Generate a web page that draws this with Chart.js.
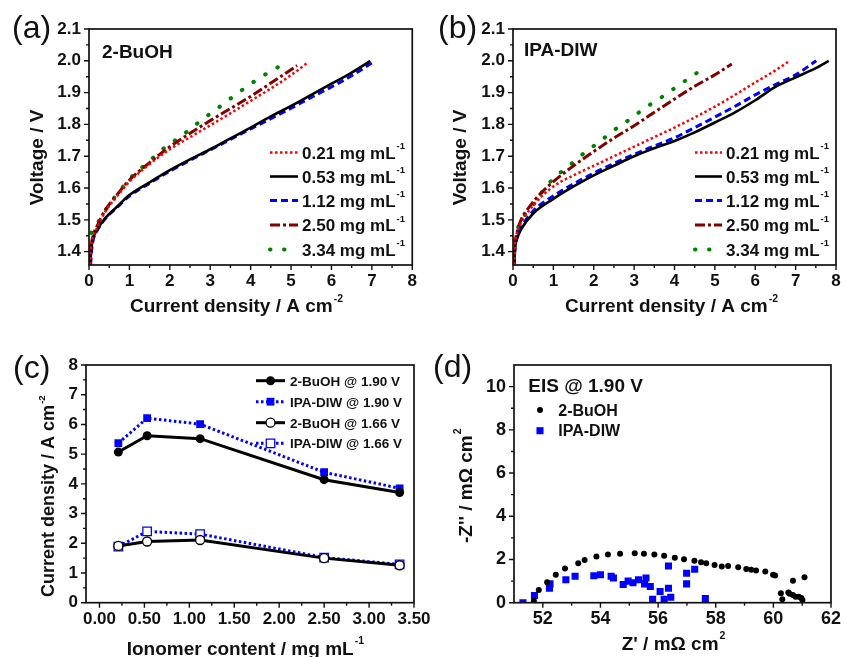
<!DOCTYPE html>
<html>
<head>
<meta charset="utf-8">
<title>Ionomer content study</title>
<script src="https://cdn.jsdelivr.net/npm/chart.js@4.4.1/dist/chart.umd.min.js"></script>
<style>
  body { margin: 0; background: #fff; width: 847px; height: 657px; overflow: hidden; position: relative; }
  canvas { position: absolute; }
</style>
</head>
<body>
<canvas id="chartA" width="423" height="330" style="left:0;top:0"></canvas>
<canvas id="chartB" width="424" height="330" style="left:423px;top:0"></canvas>
<canvas id="chartC" width="440" height="340" style="left:0;top:330px"></canvas>
<canvas id="chartD" width="424" height="340" style="left:423px;top:330px"></canvas>
<script>
const FAMILY = '"Liberation Sans", Arial, sans-serif';
const INK = '#111';

// ionomer loadings used in (a) and (b)
const loadingLabels = ['0.21', '0.53', '1.12', '2.50', '3.34'];

// (a) 2-BuOH: current density (A cm-2) / voltage (V)
const buJ021 = [0.03, 0.05, 0.1, 0.2, 0.4, 0.7, 1, 1.5, 2, 2.5, 3, 3.5, 4, 4.5, 5, 5.42];
const buV021 = [1.36, 1.41, 1.445, 1.475, 1.525, 1.575, 1.62, 1.675, 1.722, 1.76, 1.797, 1.835, 1.874, 1.913, 1.955, 1.995];
const buJ053 = [0.03, 0.06, 0.1, 0.2, 0.4, 0.7, 1, 1.5, 2, 2.5, 3, 3.5, 4, 4.5, 5, 5.5, 6, 6.5, 6.96];
const buV053 = [1.36, 1.41, 1.44, 1.468, 1.505, 1.542, 1.578, 1.618, 1.656, 1.69, 1.722, 1.756, 1.79, 1.825, 1.858, 1.893, 1.928, 1.963, 2.0];
const buJ112 = [0.04, 0.07, 0.11, 0.2, 0.4, 0.7, 1, 1.5, 2, 2.5, 3, 3.5, 4, 4.5, 5, 5.5, 6, 6.5, 7.08];
const buV112 = [1.36, 1.41, 1.44, 1.466, 1.503, 1.54, 1.575, 1.615, 1.653, 1.687, 1.72, 1.753, 1.786, 1.818, 1.851, 1.885, 1.918, 1.953, 2.0];
const buJ250 = [0.03, 0.05, 0.1, 0.2, 0.4, 0.7, 1, 1.5, 2, 2.5, 3, 3.5, 4, 4.5, 5.15];
const buV250 = [1.36, 1.41, 1.45, 1.48, 1.53, 1.58, 1.625, 1.68, 1.73, 1.772, 1.812, 1.85, 1.888, 1.93, 1.985];
const buJ334 = [0.01, 0.03, 0.11, 0.235, 0.4, 0.63, 1.13, 1.42, 1.8, 2.32, 2.8, 3.27, 3.75, 4.26, 4.96];
const buV334 = [1.37, 1.437, 1.468, 1.494, 1.529, 1.57, 1.645, 1.676, 1.72, 1.767, 1.815, 1.859, 1.905, 1.949, 2.0];

// (b) IPA-DIW
const ipJ021 = [0.03, 0.05, 0.1, 0.2, 0.5, 1, 1.5, 2, 2.5, 3, 3.5, 4, 4.5, 5, 5.5, 6, 6.5, 6.85];
const ipV021 = [1.36, 1.42, 1.46, 1.49, 1.545, 1.605, 1.64, 1.67, 1.7, 1.73, 1.76, 1.79, 1.822, 1.856, 1.893, 1.932, 1.97, 2.0];
const ipJ053 = [0.03, 0.05, 0.1, 0.2, 0.5, 1, 1.5, 2, 2.5, 3, 3.5, 4, 4.5, 5, 5.5, 6, 6.5, 7, 7.5, 7.82];
const ipV053 = [1.36, 1.41, 1.44, 1.47, 1.52, 1.566, 1.605, 1.64, 1.67, 1.7, 1.725, 1.748, 1.775, 1.806, 1.838, 1.876, 1.918, 1.948, 1.977, 2.0];
const ipJ112 = [0.03, 0.05, 0.1, 0.2, 0.5, 1, 1.5, 2, 2.5, 3, 3.5, 4, 4.5, 5, 5.5, 6, 6.5, 7, 7.51];
const ipV112 = [1.36, 1.41, 1.445, 1.475, 1.528, 1.575, 1.613, 1.647, 1.677, 1.706, 1.732, 1.758, 1.79, 1.823, 1.857, 1.893, 1.925, 1.956, 2.0];
const ipJ250 = [0.03, 0.05, 0.1, 0.2, 0.4, 0.7, 1, 1.5, 2, 2.5, 3, 3.5, 4, 4.5, 5, 5.42];
const ipV250 = [1.36, 1.42, 1.46, 1.5, 1.54, 1.585, 1.62, 1.67, 1.715, 1.757, 1.796, 1.838, 1.88, 1.92, 1.956, 1.99];
const ipJ334 = [0.02, 0.06, 0.19, 0.44, 0.65, 0.89, 1.18, 1.49, 1.8, 2.12, 2.44, 2.78, 3.09, 3.43, 3.77, 4.1, 4.43, 4.77];
const ipV334 = [1.39, 1.44, 1.494, 1.536, 1.575, 1.615, 1.649, 1.681, 1.714, 1.743, 1.776, 1.806, 1.835, 1.865, 1.893, 1.923, 1.951, 1.982];

// (c) current density vs ionomer content
const ionomer = [0.21, 0.53, 1.12, 2.50, 3.34];
const buoh190 = [5.07, 5.62, 5.52, 4.14, 3.71];
const ipa190 = [5.37, 6.21, 6.01, 4.39, 3.85];
const buoh166 = [1.91, 2.06, 2.11, 1.50, 1.26];
const ipa166 = [1.89, 2.40, 2.31, 1.52, 1.29];
const seriesLabelsC = ['2-BuOH @ 1.90 V', 'IPA-DIW @ 1.90 V', '2-BuOH @ 1.66 V', 'IPA-DIW @ 1.66 V'];

// (d) EIS at 1.90 V, Z' and -Z'' (mOhm cm2)
const eisBuRe = [51.69, 51.86, 52.15, 52.45, 52.77, 53.23, 53.45, 53.86, 54.26, 54.68, 55.19, 55.51, 55.87, 56.21, 56.58, 56.90, 57.26, 57.49, 57.67, 57.96, 58.21, 58.43, 58.78, 59.06, 59.23, 59.40, 59.72, 59.99, 60.06, 60.26, 60.31, 60.52, 60.56, 60.68, 60.68, 60.77, 60.88, 60.97, 61.01, 61.08];
const eisBuIm = [0.09, 0.59, 0.95, 1.29, 1.58, 1.83, 1.98, 2.14, 2.23, 2.26, 2.29, 2.26, 2.23, 2.17, 2.08, 2.01, 1.94, 1.87, 1.83, 1.74, 1.67, 1.70, 1.64, 1.56, 1.53, 1.49, 1.44, 1.29, 1.26, 0.44, 0.16, 0.47, 0.41, 1.02, 0.36, 0.28, 0.28, 0.22, 0.13, 1.18];
const eisIpaRe = [51.31, 51.71, 52.25, 52.23, 52.80, 53.12, 53.77, 54.00, 54.37, 54.45, 54.79, 54.96, 55.13, 55.32, 55.58, 55.53, 55.73, 55.81, 56.07, 56.21, 56.36, 56.36, 56.44, 56.99, 56.99, 57.27, 57.64];
const eisIpaIm = [0.0, 0.33, 0.87, 0.67, 1.06, 1.22, 1.25, 1.29, 1.22, 1.14, 0.84, 1.00, 0.92, 1.06, 1.14, 0.87, 0.75, 0.16, 0.52, 0.16, 0.67, 1.70, 0.25, 0.87, 1.36, 1.55, 0.19];

// tick values
const currentTicks = [0, 1, 2, 3, 4, 5, 6, 7, 8];
const voltTicks = [1.4, 1.5, 1.6, 1.7, 1.8, 1.9, 2.0, 2.1];
const ionomerTicks = [0, 0.5, 1, 1.5, 2, 2.5, 3, 3.5];
const densityTicks = [0, 1, 2, 3, 4, 5, 6, 7, 8];
const reTicks = [52, 54, 56, 58, 60, 62];
const imTicks = [0, 2, 4, 6, 8, 10];

const pts = (xs, ys) => xs.map((x, i) => ({ x, y: ys[i] }));
const halfway = ticks => ticks.slice(0, -1).map((v, i) => (v + ticks[i + 1]) / 2);

const curveStyles = [
  { borderColor: '#ff0000', borderWidth: 2.5, borderDash: [2.5, 2.5], borderCapStyle: 'butt' },
  { borderColor: '#000000', borderWidth: 2.6, borderDash: [], borderCapStyle: 'butt' },
  { borderColor: '#0000ff', borderWidth: 3, borderDash: [7, 4], borderCapStyle: 'butt' },
  { borderColor: '#800000', borderWidth: 3, borderDash: [10, 3, 3, 3], borderCapStyle: 'butt' },
  { borderColor: '#008000', borderWidth: 4, borderDash: [0.5, 13.5], borderCapStyle: 'round' }
];

function curves(pairs) {
  return pairs.map((p, i) => Object.assign({
    data: pts(p[0], p[1]),
    pointRadius: 0,
    fill: false,
    cubicInterpolationMode: 'monotone'
  }, curveStyles[i]));
}

function axis(min, max, ticks, fmt, fitSize, horizontal, size) {
  return {
    type: 'linear', min, max,
    afterBuildTicks: s => { s.ticks = ticks.map(v => ({ value: v })); },
    afterFit: s => { if (horizontal) s.height = fitSize; else s.width = fitSize; },
    grid: { display: false, drawTicks: false },
    border: { display: false },
    ticks: {
      autoSkip: false, maxRotation: 0, padding: horizontal ? 6 : 8, color: INK,
      font: { family: FAMILY, size: size || 17, weight: 'bold' },
      callback: v => fmt(v)
    }
  };
}

// frame round the plot area plus outward major/minor ticks
const axesFrame = {
  id: 'axesFrame',
  afterDatasetsDraw(chart, args, opts) {
    const { ctx, chartArea: a, scales: { x, y } } = chart;
    ctx.save();
    ctx.strokeStyle = INK;
    ctx.setLineDash([]);
    ctx.lineWidth = 1.7;
    ctx.strokeRect(a.left, a.top, a.right - a.left, a.bottom - a.top);
    ctx.lineWidth = 1.4;
    ctx.beginPath();
    const xm = (v, len) => { const p = x.getPixelForValue(v); ctx.moveTo(p, a.bottom); ctx.lineTo(p, a.bottom + len); };
    const ym = (v, len) => { const p = y.getPixelForValue(v); ctx.moveTo(a.left, p); ctx.lineTo(a.left - len, p); };
    x.ticks.forEach(t => xm(t.value, 5));
    y.ticks.forEach(t => ym(t.value, 5));
    (opts.xMinor || []).forEach(v => xm(v, 3));
    (opts.yMinor || []).forEach(v => ym(v, 3));
    ctx.stroke();
    ctx.restore();
  }
};

function drawParts(ctx, it) {
  const size = it.size, weight = it.weight || 'bold';
  ctx.save();
  ctx.fillStyle = INK;
  ctx.translate(it.tx, it.y);
  if (it.rotate) ctx.rotate(-Math.PI / 2);
  const segs = it.parts.map(p => {
    const sup = p[0] === '^';
    const s = sup ? size * 0.55 : size;
    const t = sup ? p.slice(1) : p;
    ctx.font = `${weight} ${s}px ${FAMILY}`;
    return { t, s, sup, w: ctx.measureText(t).width + (sup ? 1 : 0) };
  });
  const total = segs.reduce((a, g) => a + g.w, 0);
  let cx = it.align === 'center' ? -total / 2 : 0;
  ctx.textAlign = 'left';
  ctx.textBaseline = 'alphabetic';
  const base = size * 0.358;
  segs.forEach(g => {
    ctx.font = `${weight} ${g.s}px ${FAMILY}`;
    ctx.fillText(g.t, cx + (g.sup ? 1 : 0), g.sup ? base - size * 0.55 : base);
    cx += g.w;
  });
  ctx.restore();
}

function sampleLine(ctx, ds, x1, x2, y) {
  ctx.save();
  ctx.strokeStyle = ds.borderColor;
  ctx.lineWidth = ds.borderWidth;
  ctx.setLineDash(ds.borderDash || []);
  ctx.lineCap = ds.borderCapStyle || 'butt';
  ctx.beginPath();
  ctx.moveTo(x1, y);
  ctx.lineTo(x2, y);
  ctx.stroke();
  ctx.restore();
}

function marker(ctx, ds, x, y) {
  const r = ds.pointRadius;
  ctx.save();
  ctx.setLineDash([]);
  ctx.fillStyle = ds.pointBackgroundColor;
  ctx.strokeStyle = ds.pointBorderColor;
  ctx.lineWidth = ds.pointBorderWidth;
  ctx.beginPath();
  if (ds.pointStyle === 'rect') {
    const s = r * Math.SQRT1_2;
    ctx.rect(x - s, y - s, 2 * s, 2 * s);
  } else {
    ctx.arc(x, y, r, 0, Math.PI * 2);
  }
  ctx.fill();
  if (ds.pointBorderWidth) ctx.stroke();
  ctx.restore();
}

// panel letters, annotations, axis titles and legends
const panelText = {
  id: 'panelText',
  afterDraw(chart, args, opts) {
    const ctx = chart.ctx;
    (opts.items || []).forEach(it => {
      if (it.ds !== undefined) {
        const ds = chart.data.datasets[it.ds];
        if (it.x2) sampleLine(ctx, ds, it.x1, it.x2, it.y);
        if (it.mark) marker(ctx, ds, it.mark, it.y);
      }
      if (it.parts) drawParts(ctx, it);
    });
  }
};

function makeChart(id, o) {
  return new Chart(document.getElementById(id), {
    type: o.type || 'line',
    data: { datasets: o.datasets },
    options: {
      responsive: false,
      animation: false,
      events: [],
      layout: { padding: o.pad },
      plugins: {
        legend: { display: false },
        tooltip: { enabled: false },
        axesFrame: { xMinor: o.xMinor, yMinor: o.yMinor },
        panelText: { items: o.items }
      },
      scales: { x: o.x, y: o.y }
    },
    plugins: [axesFrame, panelText]
  });
}

const legendRows = [152.5, 176.5, 200.5, 225, 249.5];
const loadingLegend = (x1, x2, tx) => loadingLabels.map((l, i) => ({
  ds: i, x1, x2, y: legendRows[i], parts: [l + ' mg mL', '^-1'], tx, size: 17
}));
const fmt1 = v => v.toFixed(1);
const fmt0 = v => String(v);

makeChart('chartA', {
  pad: { top: 29, right: 10, left: 0, bottom: 0 },
  datasets: curves([[buJ021, buV021], [buJ053, buV053], [buJ112, buV112], [buJ250, buV250], [buJ334, buV334]]),
  x: axis(0, 8, currentTicks, fmt0, 65, true),
  y: axis(1.358, 2.1, voltTicks, fmt1, 89, false),
  xMinor: halfway(currentTicks),
  yMinor: halfway(voltTicks),
  items: [
    { parts: ['(a)'], tx: 12, y: 27, size: 32, weight: 'normal' },
    { parts: ['2-BuOH'], tx: 102, y: 51, size: 19 },
    { parts: ['Current density / A cm', '^-2'], tx: 130, y: 305.5, size: 19 },
    { parts: ['Voltage / V'], tx: 36, y: 157.5, size: 19, rotate: true, align: 'center' }
  ].concat(loadingLegend(270, 298, 302))
});

makeChart('chartB', {
  pad: { top: 29, right: 11, left: 0, bottom: 0 },
  datasets: curves([[ipJ021, ipV021], [ipJ053, ipV053], [ipJ112, ipV112], [ipJ250, ipV250], [ipJ334, ipV334]]),
  x: axis(0, 8, currentTicks, fmt0, 65, true),
  y: axis(1.358, 2.1, voltTicks, fmt1, 90, false),
  xMinor: halfway(currentTicks),
  yMinor: halfway(voltTicks),
  items: [
    { parts: ['(b)'], tx: 15, y: 27, size: 32, weight: 'normal' },
    { parts: ['IPA-DIW'], tx: 101, y: 49.5, size: 19 },
    { parts: ['Current density / A cm', '^-2'], tx: 142, y: 305.5, size: 19 },
    { parts: ['Voltage / V'], tx: 36, y: 157.5, size: 19, rotate: true, align: 'center' }
  ].concat(loadingLegend(272, 299, 303))
});

const markerSet = (color, filled, style, radius) => ({
  pointStyle: style, pointRadius: radius,
  pointBackgroundColor: filled ? color : '#ffffff',
  pointBorderColor: color, pointBorderWidth: filled ? 0 : 1.3
});

const datasetsC = [
  Object.assign({ data: pts(ionomer, buoh190), borderColor: '#000', borderWidth: 3, tension: 0 }, markerSet('#000', true, 'circle', 4.5)),
  Object.assign({ data: pts(ionomer, ipa190), borderColor: '#0000ff', borderWidth: 3, borderDash: [2.5, 2.5], tension: 0 }, markerSet('#0000ff', true, 'rect', 5.5)),
  Object.assign({ data: pts(ionomer, buoh166), borderColor: '#000', borderWidth: 3, tension: 0 }, markerSet('#000', false, 'circle', 4.5)),
  Object.assign({ data: pts(ionomer, ipa166), borderColor: '#0000ff', borderWidth: 3, borderDash: [2.5, 2.5], tension: 0 }, markerSet('#0000ff', false, 'rect', 6))
];
const rowsC = [50.7, 71.7, 92.7, 113.3];

makeChart('chartC', {
  pad: { top: 35, right: 26, left: 0, bottom: 0 },
  datasets: datasetsC,
  x: axis(-0.15, 3.5, ionomerTicks, v => v.toFixed(2), 67.3, true),
  y: axis(0, 8, densityTicks, fmt0, 86, false),
  xMinor: halfway(ionomerTicks),
  yMinor: halfway(densityTicks),
  items: [
    { parts: ['(c)'], tx: 13, y: 37, size: 32, weight: 'normal' },
    { parts: ['Current density / A cm', '^-2'], tx: 48, y: 267, size: 18, rotate: true },
    { parts: ['Ionomer content / mg mL', '^-1'], tx: 126.7, y: 318, size: 19 }
  ].concat(seriesLabelsC.map((l, i) => ({ ds: i, x1: 256, x2: 285, mark: 270.5, y: rowsC[i], parts: [l], tx: 290, size: 13.5 })))
});

makeChart('chartD', {
  type: 'scatter',
  pad: { top: 35, right: 11, left: 0, bottom: 0 },
  datasets: [
    Object.assign({ data: pts(eisBuRe, eisBuIm) }, markerSet('#000', true, 'circle', 3)),
    Object.assign({ data: pts(eisIpaRe, eisIpaIm) }, markerSet('#0000ff', true, 'rect', 5))
  ],
  x: axis(51, 62, reTicks, fmt0, 67.3, true, 18),
  y: axis(0, 11, imTicks, fmt0, 91, false, 18),
  xMinor: halfway(reTicks),
  yMinor: halfway(imTicks),
  items: [
    { parts: ['(d)'], tx: 10, y: 36, size: 32, weight: 'normal' },
    { parts: ['EIS @ 1.90 V'], tx: 105.3, y: 55, size: 19 },
    { ds: 0, mark: 117, y: 80, parts: ['2-BuOH'], tx: 135.3, size: 16 },
    { ds: 1, mark: 117, y: 100.7, parts: ['IPA-DIW'], tx: 135.3, size: 16 },
    { parts: ["-Z'' / m\u03A9 cm", '^2'], tx: 42, y: 213, size: 19, rotate: true },
    { parts: ["Z' / m\u03A9 cm", '^2'], tx: 198.7, y: 313, size: 19 }
  ]
});
</script>
</body>
</html>
